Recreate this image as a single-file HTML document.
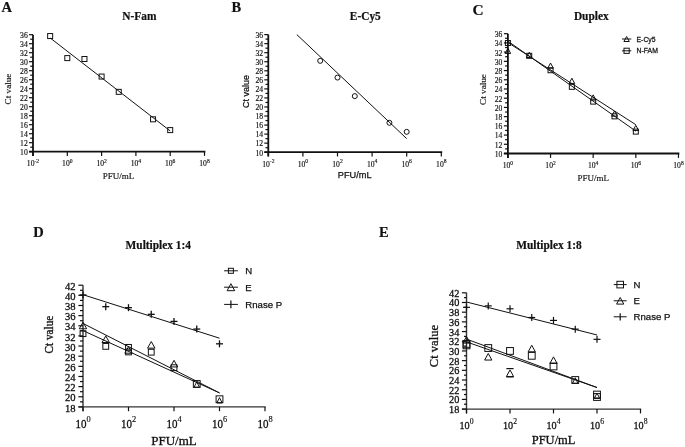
<!DOCTYPE html>
<html><head><meta charset="utf-8"><style>
html,body{margin:0;padding:0;background:#fff;}
svg{display:block;will-change:transform;}
#w{width:685px;height:447px;overflow:hidden;}
text{fill:#111;stroke:#111;stroke-width:0.2px;}
.s{font-family:"Liberation Serif",serif;stroke-width:0.3px;}
.t{font-family:"Liberation Serif",serif;stroke-width:0.15px;}
.b{font-family:"Liberation Serif",serif;font-weight:bold;}
.a{font-family:"Liberation Sans",sans-serif;stroke-width:0.25px;}
</style></head><body><div id="w">
<svg width="685" height="447" viewBox="0 0 685 447">
<rect width="685" height="447" fill="#fff"/>
<g>
<line x1="33.00" y1="34.70" x2="33.00" y2="155.90" stroke="#111" stroke-width="1.8"/>
<line x1="29.00" y1="151.70" x2="205.40" y2="151.70" stroke="#111" stroke-width="1.8"/>
<line x1="29.00" y1="151.70" x2="33.00" y2="151.70" stroke="#111" stroke-width="1.2"/>
<text class="t" x="27.80" y="155.00" font-size="7.7" text-anchor="end" >10</text>
<line x1="30.20" y1="147.20" x2="33.00" y2="147.20" stroke="#111" stroke-width="1.2"/>
<line x1="29.00" y1="142.70" x2="33.00" y2="142.70" stroke="#111" stroke-width="1.2"/>
<text class="t" x="27.80" y="146.00" font-size="7.7" text-anchor="end" >12</text>
<line x1="30.20" y1="138.20" x2="33.00" y2="138.20" stroke="#111" stroke-width="1.2"/>
<line x1="29.00" y1="133.70" x2="33.00" y2="133.70" stroke="#111" stroke-width="1.2"/>
<text class="t" x="27.80" y="137.00" font-size="7.7" text-anchor="end" >14</text>
<line x1="30.20" y1="129.20" x2="33.00" y2="129.20" stroke="#111" stroke-width="1.2"/>
<line x1="29.00" y1="124.70" x2="33.00" y2="124.70" stroke="#111" stroke-width="1.2"/>
<text class="t" x="27.80" y="128.00" font-size="7.7" text-anchor="end" >16</text>
<line x1="30.20" y1="120.20" x2="33.00" y2="120.20" stroke="#111" stroke-width="1.2"/>
<line x1="29.00" y1="115.70" x2="33.00" y2="115.70" stroke="#111" stroke-width="1.2"/>
<text class="t" x="27.80" y="119.00" font-size="7.7" text-anchor="end" >18</text>
<line x1="30.20" y1="111.20" x2="33.00" y2="111.20" stroke="#111" stroke-width="1.2"/>
<line x1="29.00" y1="106.70" x2="33.00" y2="106.70" stroke="#111" stroke-width="1.2"/>
<text class="t" x="27.80" y="110.00" font-size="7.7" text-anchor="end" >20</text>
<line x1="30.20" y1="102.20" x2="33.00" y2="102.20" stroke="#111" stroke-width="1.2"/>
<line x1="29.00" y1="97.70" x2="33.00" y2="97.70" stroke="#111" stroke-width="1.2"/>
<text class="t" x="27.80" y="101.00" font-size="7.7" text-anchor="end" >22</text>
<line x1="30.20" y1="93.20" x2="33.00" y2="93.20" stroke="#111" stroke-width="1.2"/>
<line x1="29.00" y1="88.70" x2="33.00" y2="88.70" stroke="#111" stroke-width="1.2"/>
<text class="t" x="27.80" y="92.00" font-size="7.7" text-anchor="end" >24</text>
<line x1="30.20" y1="84.20" x2="33.00" y2="84.20" stroke="#111" stroke-width="1.2"/>
<line x1="29.00" y1="79.70" x2="33.00" y2="79.70" stroke="#111" stroke-width="1.2"/>
<text class="t" x="27.80" y="83.00" font-size="7.7" text-anchor="end" >26</text>
<line x1="30.20" y1="75.20" x2="33.00" y2="75.20" stroke="#111" stroke-width="1.2"/>
<line x1="29.00" y1="70.70" x2="33.00" y2="70.70" stroke="#111" stroke-width="1.2"/>
<text class="t" x="27.80" y="74.00" font-size="7.7" text-anchor="end" >28</text>
<line x1="30.20" y1="66.20" x2="33.00" y2="66.20" stroke="#111" stroke-width="1.2"/>
<line x1="29.00" y1="61.70" x2="33.00" y2="61.70" stroke="#111" stroke-width="1.2"/>
<text class="t" x="27.80" y="65.00" font-size="7.7" text-anchor="end" >30</text>
<line x1="30.20" y1="57.20" x2="33.00" y2="57.20" stroke="#111" stroke-width="1.2"/>
<line x1="29.00" y1="52.70" x2="33.00" y2="52.70" stroke="#111" stroke-width="1.2"/>
<text class="t" x="27.80" y="56.00" font-size="7.7" text-anchor="end" >32</text>
<line x1="30.20" y1="48.20" x2="33.00" y2="48.20" stroke="#111" stroke-width="1.2"/>
<line x1="29.00" y1="43.70" x2="33.00" y2="43.70" stroke="#111" stroke-width="1.2"/>
<text class="t" x="27.80" y="47.00" font-size="7.7" text-anchor="end" >34</text>
<line x1="30.20" y1="39.20" x2="33.00" y2="39.20" stroke="#111" stroke-width="1.2"/>
<line x1="29.00" y1="34.70" x2="33.00" y2="34.70" stroke="#111" stroke-width="1.2"/>
<text class="t" x="27.80" y="38.00" font-size="7.7" text-anchor="end" >36</text>
<line x1="33.00" y1="151.70" x2="33.00" y2="155.90" stroke="#111" stroke-width="1.2"/>
<text class="t" x="0.00" y="0.00" font-size="7.2" transform="translate(26.85,166.00) scale(1.06,1)">10</text>
<text class="t" x="34.48" y="162.50" font-size="5.6" >-2</text>
<line x1="67.30" y1="151.70" x2="67.30" y2="155.90" stroke="#111" stroke-width="1.2"/>
<text class="t" x="0.00" y="0.00" font-size="7.2" transform="translate(62.08,166.00) scale(1.06,1)">10</text>
<text class="t" x="69.72" y="162.50" font-size="5.6" >0</text>
<line x1="101.60" y1="151.70" x2="101.60" y2="155.90" stroke="#111" stroke-width="1.2"/>
<text class="t" x="0.00" y="0.00" font-size="7.2" transform="translate(96.38,166.00) scale(1.06,1)">10</text>
<text class="t" x="104.02" y="162.50" font-size="5.6" >2</text>
<line x1="135.90" y1="151.70" x2="135.90" y2="155.90" stroke="#111" stroke-width="1.2"/>
<text class="t" x="0.00" y="0.00" font-size="7.2" transform="translate(130.68,166.00) scale(1.06,1)">10</text>
<text class="t" x="138.32" y="162.50" font-size="5.6" >4</text>
<line x1="170.20" y1="151.70" x2="170.20" y2="155.90" stroke="#111" stroke-width="1.2"/>
<text class="t" x="0.00" y="0.00" font-size="7.2" transform="translate(164.98,166.00) scale(1.06,1)">10</text>
<text class="t" x="172.62" y="162.50" font-size="5.6" >6</text>
<line x1="204.50" y1="151.70" x2="204.50" y2="155.90" stroke="#111" stroke-width="1.2"/>
<text class="t" x="0.00" y="0.00" font-size="7.2" transform="translate(199.28,166.00) scale(1.06,1)">10</text>
<text class="t" x="206.92" y="162.50" font-size="5.6" >8</text>
<line x1="50.15" y1="37.94" x2="170.20" y2="130.91" stroke="#111" stroke-width="1"/>
<rect x="47.65" y="33.55" width="5" height="5" fill="none" stroke="#111" stroke-width="1"/>
<rect x="64.80" y="55.60" width="5" height="5" fill="none" stroke="#111" stroke-width="1"/>
<rect x="81.95" y="56.50" width="5" height="5" fill="none" stroke="#111" stroke-width="1"/>
<rect x="99.10" y="74.05" width="5" height="5" fill="none" stroke="#111" stroke-width="1"/>
<rect x="116.25" y="89.35" width="5" height="5" fill="none" stroke="#111" stroke-width="1"/>
<rect x="150.55" y="116.80" width="5" height="5" fill="none" stroke="#111" stroke-width="1"/>
<rect x="167.70" y="127.60" width="5" height="5" fill="none" stroke="#111" stroke-width="1"/>
<text class="b" x="1.50" y="12.20" font-size="14.5" >A</text>
<text class="b" x="0.00" y="0.00" font-size="11.4" text-anchor="middle" transform="translate(139.30,19.70) scale(1,1.1)">N-Fam</text>
<text class="t" x="118.50" y="178.60" font-size="9" text-anchor="middle" >PFU/mL</text>
<text class="t" x="0.00" y="0.00" font-size="9.2" text-anchor="middle" transform="translate(10.8,89) rotate(-90)">Ct value</text>
<line x1="268.30" y1="34.60" x2="268.30" y2="156.40" stroke="#111" stroke-width="1.8"/>
<line x1="264.30" y1="152.20" x2="442.20" y2="152.20" stroke="#111" stroke-width="1.8"/>
<line x1="264.30" y1="152.20" x2="268.30" y2="152.20" stroke="#111" stroke-width="1.2"/>
<text class="t" x="263.10" y="155.50" font-size="7.7" text-anchor="end" >10</text>
<line x1="265.50" y1="147.68" x2="268.30" y2="147.68" stroke="#111" stroke-width="1.2"/>
<line x1="264.30" y1="143.15" x2="268.30" y2="143.15" stroke="#111" stroke-width="1.2"/>
<text class="t" x="263.10" y="146.45" font-size="7.7" text-anchor="end" >12</text>
<line x1="265.50" y1="138.63" x2="268.30" y2="138.63" stroke="#111" stroke-width="1.2"/>
<line x1="264.30" y1="134.11" x2="268.30" y2="134.11" stroke="#111" stroke-width="1.2"/>
<text class="t" x="263.10" y="137.41" font-size="7.7" text-anchor="end" >14</text>
<line x1="265.50" y1="129.58" x2="268.30" y2="129.58" stroke="#111" stroke-width="1.2"/>
<line x1="264.30" y1="125.06" x2="268.30" y2="125.06" stroke="#111" stroke-width="1.2"/>
<text class="t" x="263.10" y="128.36" font-size="7.7" text-anchor="end" >16</text>
<line x1="265.50" y1="120.54" x2="268.30" y2="120.54" stroke="#111" stroke-width="1.2"/>
<line x1="264.30" y1="116.02" x2="268.30" y2="116.02" stroke="#111" stroke-width="1.2"/>
<text class="t" x="263.10" y="119.32" font-size="7.7" text-anchor="end" >18</text>
<line x1="265.50" y1="111.49" x2="268.30" y2="111.49" stroke="#111" stroke-width="1.2"/>
<line x1="264.30" y1="106.97" x2="268.30" y2="106.97" stroke="#111" stroke-width="1.2"/>
<text class="t" x="263.10" y="110.27" font-size="7.7" text-anchor="end" >20</text>
<line x1="265.50" y1="102.45" x2="268.30" y2="102.45" stroke="#111" stroke-width="1.2"/>
<line x1="264.30" y1="97.92" x2="268.30" y2="97.92" stroke="#111" stroke-width="1.2"/>
<text class="t" x="263.10" y="101.22" font-size="7.7" text-anchor="end" >22</text>
<line x1="265.50" y1="93.40" x2="268.30" y2="93.40" stroke="#111" stroke-width="1.2"/>
<line x1="264.30" y1="88.88" x2="268.30" y2="88.88" stroke="#111" stroke-width="1.2"/>
<text class="t" x="263.10" y="92.18" font-size="7.7" text-anchor="end" >24</text>
<line x1="265.50" y1="84.35" x2="268.30" y2="84.35" stroke="#111" stroke-width="1.2"/>
<line x1="264.30" y1="79.83" x2="268.30" y2="79.83" stroke="#111" stroke-width="1.2"/>
<text class="t" x="263.10" y="83.13" font-size="7.7" text-anchor="end" >26</text>
<line x1="265.50" y1="75.31" x2="268.30" y2="75.31" stroke="#111" stroke-width="1.2"/>
<line x1="264.30" y1="70.79" x2="268.30" y2="70.79" stroke="#111" stroke-width="1.2"/>
<text class="t" x="263.10" y="74.09" font-size="7.7" text-anchor="end" >28</text>
<line x1="265.50" y1="66.26" x2="268.30" y2="66.26" stroke="#111" stroke-width="1.2"/>
<line x1="264.30" y1="61.74" x2="268.30" y2="61.74" stroke="#111" stroke-width="1.2"/>
<text class="t" x="263.10" y="65.04" font-size="7.7" text-anchor="end" >30</text>
<line x1="265.50" y1="57.22" x2="268.30" y2="57.22" stroke="#111" stroke-width="1.2"/>
<line x1="264.30" y1="52.69" x2="268.30" y2="52.69" stroke="#111" stroke-width="1.2"/>
<text class="t" x="263.10" y="55.99" font-size="7.7" text-anchor="end" >32</text>
<line x1="265.50" y1="48.17" x2="268.30" y2="48.17" stroke="#111" stroke-width="1.2"/>
<line x1="264.30" y1="43.65" x2="268.30" y2="43.65" stroke="#111" stroke-width="1.2"/>
<text class="t" x="263.10" y="46.95" font-size="7.7" text-anchor="end" >34</text>
<line x1="265.50" y1="39.12" x2="268.30" y2="39.12" stroke="#111" stroke-width="1.2"/>
<line x1="264.30" y1="34.60" x2="268.30" y2="34.60" stroke="#111" stroke-width="1.2"/>
<text class="t" x="263.10" y="37.90" font-size="7.7" text-anchor="end" >36</text>
<line x1="268.30" y1="152.20" x2="268.30" y2="156.40" stroke="#111" stroke-width="1.2"/>
<text class="t" x="0.00" y="0.00" font-size="7.2" transform="translate(262.15,166.50) scale(1.06,1)">10</text>
<text class="t" x="269.78" y="163.00" font-size="5.6" >-2</text>
<line x1="302.90" y1="152.20" x2="302.90" y2="156.40" stroke="#111" stroke-width="1.2"/>
<text class="t" x="0.00" y="0.00" font-size="7.2" transform="translate(297.68,166.50) scale(1.06,1)">10</text>
<text class="t" x="305.32" y="163.00" font-size="5.6" >0</text>
<line x1="337.50" y1="152.20" x2="337.50" y2="156.40" stroke="#111" stroke-width="1.2"/>
<text class="t" x="0.00" y="0.00" font-size="7.2" transform="translate(332.28,166.50) scale(1.06,1)">10</text>
<text class="t" x="339.92" y="163.00" font-size="5.6" >2</text>
<line x1="372.10" y1="152.20" x2="372.10" y2="156.40" stroke="#111" stroke-width="1.2"/>
<text class="t" x="0.00" y="0.00" font-size="7.2" transform="translate(366.88,166.50) scale(1.06,1)">10</text>
<text class="t" x="374.52" y="163.00" font-size="5.6" >4</text>
<line x1="406.70" y1="152.20" x2="406.70" y2="156.40" stroke="#111" stroke-width="1.2"/>
<text class="t" x="0.00" y="0.00" font-size="7.2" transform="translate(401.48,166.50) scale(1.06,1)">10</text>
<text class="t" x="409.12" y="163.00" font-size="5.6" >6</text>
<line x1="441.30" y1="152.20" x2="441.30" y2="156.40" stroke="#111" stroke-width="1.2"/>
<text class="t" x="0.00" y="0.00" font-size="7.2" transform="translate(436.08,166.50) scale(1.06,1)">10</text>
<text class="t" x="443.72" y="163.00" font-size="5.6" >8</text>
<line x1="296.85" y1="34.60" x2="406.70" y2="138.63" stroke="#111" stroke-width="1"/>
<circle cx="320.20" cy="60.84" r="2.5" fill="none" stroke="#111" stroke-width="1"/>
<circle cx="337.50" cy="77.57" r="2.5" fill="none" stroke="#111" stroke-width="1"/>
<circle cx="354.80" cy="96.11" r="2.5" fill="none" stroke="#111" stroke-width="1"/>
<circle cx="389.40" cy="122.80" r="2.5" fill="none" stroke="#111" stroke-width="1"/>
<circle cx="406.70" cy="131.85" r="2.5" fill="none" stroke="#111" stroke-width="1"/>
<text class="b" x="231.50" y="12.00" font-size="14.5" >B</text>
<text class="b" x="0.00" y="0.00" font-size="11.4" text-anchor="middle" transform="translate(365.30,19.70) scale(1,1.1)">E-Cy5</text>
<text class="a" x="354.70" y="178.10" font-size="9.2" text-anchor="middle" >PFU/mL</text>
<text class="a" x="0.00" y="0.00" font-size="9" text-anchor="middle" transform="translate(249.2,91.4) rotate(-90)">Ct value</text>
<line x1="507.90" y1="33.69" x2="507.90" y2="157.90" stroke="#111" stroke-width="1.8"/>
<line x1="503.90" y1="153.50" x2="679.36" y2="153.50" stroke="#111" stroke-width="1.8"/>
<line x1="503.90" y1="153.50" x2="507.90" y2="153.50" stroke="#111" stroke-width="1.2"/>
<text class="t" x="502.40" y="156.90" font-size="7.6" text-anchor="end" >10</text>
<line x1="505.10" y1="148.89" x2="507.90" y2="148.89" stroke="#111" stroke-width="1.2"/>
<line x1="503.90" y1="144.28" x2="507.90" y2="144.28" stroke="#111" stroke-width="1.2"/>
<text class="t" x="502.40" y="147.68" font-size="7.6" text-anchor="end" >12</text>
<line x1="505.10" y1="139.68" x2="507.90" y2="139.68" stroke="#111" stroke-width="1.2"/>
<line x1="503.90" y1="135.07" x2="507.90" y2="135.07" stroke="#111" stroke-width="1.2"/>
<text class="t" x="502.40" y="138.47" font-size="7.6" text-anchor="end" >14</text>
<line x1="505.10" y1="130.46" x2="507.90" y2="130.46" stroke="#111" stroke-width="1.2"/>
<line x1="503.90" y1="125.85" x2="507.90" y2="125.85" stroke="#111" stroke-width="1.2"/>
<text class="t" x="502.40" y="129.25" font-size="7.6" text-anchor="end" >16</text>
<line x1="505.10" y1="121.24" x2="507.90" y2="121.24" stroke="#111" stroke-width="1.2"/>
<line x1="503.90" y1="116.64" x2="507.90" y2="116.64" stroke="#111" stroke-width="1.2"/>
<text class="t" x="502.40" y="120.04" font-size="7.6" text-anchor="end" >18</text>
<line x1="505.10" y1="112.03" x2="507.90" y2="112.03" stroke="#111" stroke-width="1.2"/>
<line x1="503.90" y1="107.42" x2="507.90" y2="107.42" stroke="#111" stroke-width="1.2"/>
<text class="t" x="502.40" y="110.82" font-size="7.6" text-anchor="end" >20</text>
<line x1="505.10" y1="102.81" x2="507.90" y2="102.81" stroke="#111" stroke-width="1.2"/>
<line x1="503.90" y1="98.20" x2="507.90" y2="98.20" stroke="#111" stroke-width="1.2"/>
<text class="t" x="502.40" y="101.60" font-size="7.6" text-anchor="end" >22</text>
<line x1="505.10" y1="93.60" x2="507.90" y2="93.60" stroke="#111" stroke-width="1.2"/>
<line x1="503.90" y1="88.99" x2="507.90" y2="88.99" stroke="#111" stroke-width="1.2"/>
<text class="t" x="502.40" y="92.39" font-size="7.6" text-anchor="end" >24</text>
<line x1="505.10" y1="84.38" x2="507.90" y2="84.38" stroke="#111" stroke-width="1.2"/>
<line x1="503.90" y1="79.77" x2="507.90" y2="79.77" stroke="#111" stroke-width="1.2"/>
<text class="t" x="502.40" y="83.17" font-size="7.6" text-anchor="end" >26</text>
<line x1="505.10" y1="75.16" x2="507.90" y2="75.16" stroke="#111" stroke-width="1.2"/>
<line x1="503.90" y1="70.56" x2="507.90" y2="70.56" stroke="#111" stroke-width="1.2"/>
<text class="t" x="502.40" y="73.96" font-size="7.6" text-anchor="end" >28</text>
<line x1="505.10" y1="65.95" x2="507.90" y2="65.95" stroke="#111" stroke-width="1.2"/>
<line x1="503.90" y1="61.34" x2="507.90" y2="61.34" stroke="#111" stroke-width="1.2"/>
<text class="t" x="502.40" y="64.74" font-size="7.6" text-anchor="end" >30</text>
<line x1="505.10" y1="56.73" x2="507.90" y2="56.73" stroke="#111" stroke-width="1.2"/>
<line x1="503.90" y1="52.12" x2="507.90" y2="52.12" stroke="#111" stroke-width="1.2"/>
<text class="t" x="502.40" y="55.52" font-size="7.6" text-anchor="end" >32</text>
<line x1="505.10" y1="47.52" x2="507.90" y2="47.52" stroke="#111" stroke-width="1.2"/>
<line x1="503.90" y1="42.91" x2="507.90" y2="42.91" stroke="#111" stroke-width="1.2"/>
<text class="t" x="502.40" y="46.31" font-size="7.6" text-anchor="end" >34</text>
<line x1="505.10" y1="38.30" x2="507.90" y2="38.30" stroke="#111" stroke-width="1.2"/>
<line x1="503.90" y1="33.69" x2="507.90" y2="33.69" stroke="#111" stroke-width="1.2"/>
<text class="t" x="502.40" y="37.09" font-size="7.6" text-anchor="end" >36</text>
<line x1="507.90" y1="153.50" x2="507.90" y2="157.90" stroke="#111" stroke-width="1.2"/>
<text class="t" x="502.72" y="168.40" font-size="7.6" >10</text>
<text class="t" x="510.32" y="164.70" font-size="5.5" >0</text>
<line x1="550.54" y1="153.50" x2="550.54" y2="157.90" stroke="#111" stroke-width="1.2"/>
<text class="t" x="545.37" y="168.40" font-size="7.6" >10</text>
<text class="t" x="552.97" y="164.70" font-size="5.5" >2</text>
<line x1="593.18" y1="153.50" x2="593.18" y2="157.90" stroke="#111" stroke-width="1.2"/>
<text class="t" x="588.00" y="168.40" font-size="7.6" >10</text>
<text class="t" x="595.61" y="164.70" font-size="5.5" >4</text>
<line x1="635.82" y1="153.50" x2="635.82" y2="157.90" stroke="#111" stroke-width="1.2"/>
<text class="t" x="630.64" y="168.40" font-size="7.6" >10</text>
<text class="t" x="638.25" y="164.70" font-size="5.5" >6</text>
<line x1="678.46" y1="153.50" x2="678.46" y2="157.90" stroke="#111" stroke-width="1.2"/>
<text class="t" x="673.29" y="168.40" font-size="7.6" >10</text>
<text class="t" x="680.89" y="164.70" font-size="5.5" >8</text>
<line x1="507.90" y1="42.54" x2="635.82" y2="124.70" stroke="#111" stroke-width="1"/>
<path d="M507.90,48.23 L510.70,53.43 L505.10,53.43 Z" fill="none" stroke="#111" stroke-width="1"/>
<path d="M529.22,52.29 L532.02,57.49 L526.42,57.49 Z" fill="none" stroke="#111" stroke-width="1"/>
<path d="M550.54,63.03 L553.34,68.23 L547.74,68.23 Z" fill="none" stroke="#111" stroke-width="1"/>
<path d="M571.86,78.23 L574.66,83.43 L569.06,83.43 Z" fill="none" stroke="#111" stroke-width="1"/>
<path d="M593.18,94.87 L595.98,100.07 L590.38,100.07 Z" fill="none" stroke="#111" stroke-width="1"/>
<path d="M614.50,110.99 L617.30,116.19 L611.70,116.19 Z" fill="none" stroke="#111" stroke-width="1"/>
<path d="M635.82,125.33 L638.62,130.53 L633.02,130.53 Z" fill="none" stroke="#111" stroke-width="1"/>
<line x1="507.90" y1="41.16" x2="635.82" y2="131.15" stroke="#111" stroke-width="1"/>
<rect x="505.40" y="40.50" width="5" height="5" fill="none" stroke="#111" stroke-width="1"/>
<rect x="526.72" y="53.31" width="5" height="5" fill="none" stroke="#111" stroke-width="1"/>
<rect x="548.04" y="67.73" width="5" height="5" fill="none" stroke="#111" stroke-width="1"/>
<rect x="569.36" y="84.32" width="5" height="5" fill="none" stroke="#111" stroke-width="1"/>
<rect x="590.68" y="99.11" width="5" height="5" fill="none" stroke="#111" stroke-width="1"/>
<rect x="612.00" y="113.86" width="5" height="5" fill="none" stroke="#111" stroke-width="1"/>
<rect x="633.32" y="129.11" width="5" height="5" fill="none" stroke="#111" stroke-width="1"/>
<text class="b" x="0.00" y="0.00" font-size="14.5" transform="translate(472.40,15.30) scale(1.06,1)">C</text>
<text class="b" x="0.00" y="0.00" font-size="11.4" text-anchor="middle" transform="translate(591.30,19.70) scale(1,1.1)">Duplex</text>
<text class="t" x="593.20" y="181.00" font-size="9" text-anchor="middle" >PFU/mL</text>
<text class="t" x="0.00" y="0.00" font-size="9.2" text-anchor="middle" transform="translate(485.8,89.5) rotate(-90)">Ct value</text>
<line x1="622.00" y1="39.00" x2="631.30" y2="39.00" stroke="#111" stroke-width="1"/>
<path d="M626.60,36.50 L629.30,41.50 L623.90,41.50 Z" fill="none" stroke="#111" stroke-width="1"/>
<line x1="622.00" y1="50.80" x2="631.30" y2="50.80" stroke="#111" stroke-width="1"/>
<rect x="624.00" y="48.20" width="5.2" height="5.2" fill="none" stroke="#111" stroke-width="1"/>
<text class="a" x="0.00" y="0.00" font-size="7.5" transform="translate(636.50,41.50) scale(0.92,1)">E-Cy5</text>
<text class="a" x="0.00" y="0.00" font-size="7.5" transform="translate(636.50,53.00) scale(0.92,1)">N-FAM</text>
<line x1="83.00" y1="285.22" x2="83.00" y2="411.20" stroke="#333" stroke-width="1.4"/>
<line x1="78.40" y1="406.90" x2="265.70" y2="406.90" stroke="#333" stroke-width="1.4"/>
<line x1="78.40" y1="406.90" x2="83.00" y2="406.90" stroke="#111" stroke-width="1.2"/>
<text class="s" x="75.60" y="411.60" font-size="10.6" text-anchor="end" >18</text>
<line x1="80.00" y1="401.83" x2="83.00" y2="401.83" stroke="#111" stroke-width="1.2"/>
<line x1="78.40" y1="396.76" x2="83.00" y2="396.76" stroke="#111" stroke-width="1.2"/>
<text class="s" x="75.60" y="401.46" font-size="10.6" text-anchor="end" >20</text>
<line x1="80.00" y1="391.69" x2="83.00" y2="391.69" stroke="#111" stroke-width="1.2"/>
<line x1="78.40" y1="386.62" x2="83.00" y2="386.62" stroke="#111" stroke-width="1.2"/>
<text class="s" x="75.60" y="391.32" font-size="10.6" text-anchor="end" >22</text>
<line x1="80.00" y1="381.55" x2="83.00" y2="381.55" stroke="#111" stroke-width="1.2"/>
<line x1="78.40" y1="376.48" x2="83.00" y2="376.48" stroke="#111" stroke-width="1.2"/>
<text class="s" x="75.60" y="381.18" font-size="10.6" text-anchor="end" >24</text>
<line x1="80.00" y1="371.41" x2="83.00" y2="371.41" stroke="#111" stroke-width="1.2"/>
<line x1="78.40" y1="366.34" x2="83.00" y2="366.34" stroke="#111" stroke-width="1.2"/>
<text class="s" x="75.60" y="371.04" font-size="10.6" text-anchor="end" >26</text>
<line x1="80.00" y1="361.27" x2="83.00" y2="361.27" stroke="#111" stroke-width="1.2"/>
<line x1="78.40" y1="356.20" x2="83.00" y2="356.20" stroke="#111" stroke-width="1.2"/>
<text class="s" x="75.60" y="360.90" font-size="10.6" text-anchor="end" >28</text>
<line x1="80.00" y1="351.13" x2="83.00" y2="351.13" stroke="#111" stroke-width="1.2"/>
<line x1="78.40" y1="346.06" x2="83.00" y2="346.06" stroke="#111" stroke-width="1.2"/>
<text class="s" x="75.60" y="350.76" font-size="10.6" text-anchor="end" >30</text>
<line x1="80.00" y1="340.99" x2="83.00" y2="340.99" stroke="#111" stroke-width="1.2"/>
<line x1="78.40" y1="335.92" x2="83.00" y2="335.92" stroke="#111" stroke-width="1.2"/>
<text class="s" x="75.60" y="340.62" font-size="10.6" text-anchor="end" >32</text>
<line x1="80.00" y1="330.85" x2="83.00" y2="330.85" stroke="#111" stroke-width="1.2"/>
<line x1="78.40" y1="325.78" x2="83.00" y2="325.78" stroke="#111" stroke-width="1.2"/>
<text class="s" x="75.60" y="330.48" font-size="10.6" text-anchor="end" >34</text>
<line x1="80.00" y1="320.71" x2="83.00" y2="320.71" stroke="#111" stroke-width="1.2"/>
<line x1="78.40" y1="315.64" x2="83.00" y2="315.64" stroke="#111" stroke-width="1.2"/>
<text class="s" x="75.60" y="320.34" font-size="10.6" text-anchor="end" >36</text>
<line x1="80.00" y1="310.57" x2="83.00" y2="310.57" stroke="#111" stroke-width="1.2"/>
<line x1="78.40" y1="305.50" x2="83.00" y2="305.50" stroke="#111" stroke-width="1.2"/>
<text class="s" x="75.60" y="310.20" font-size="10.6" text-anchor="end" >38</text>
<line x1="80.00" y1="300.43" x2="83.00" y2="300.43" stroke="#111" stroke-width="1.2"/>
<line x1="78.40" y1="295.36" x2="83.00" y2="295.36" stroke="#111" stroke-width="1.2"/>
<text class="s" x="75.60" y="300.06" font-size="10.6" text-anchor="end" >40</text>
<line x1="80.00" y1="290.29" x2="83.00" y2="290.29" stroke="#111" stroke-width="1.2"/>
<line x1="78.40" y1="285.22" x2="83.00" y2="285.22" stroke="#111" stroke-width="1.2"/>
<text class="s" x="75.60" y="289.92" font-size="10.6" text-anchor="end" >42</text>
<line x1="83.00" y1="406.90" x2="83.00" y2="411.20" stroke="#111" stroke-width="1.2"/>
<text class="s" x="0.00" y="0.00" font-size="12" transform="translate(75.38,427.90) scale(0.92,1)">10</text>
<text class="t" x="86.42" y="422.00" font-size="8.4" >0</text>
<line x1="128.50" y1="406.90" x2="128.50" y2="411.20" stroke="#111" stroke-width="1.2"/>
<text class="s" x="0.00" y="0.00" font-size="12" transform="translate(120.88,427.90) scale(0.92,1)">10</text>
<text class="t" x="131.92" y="422.00" font-size="8.4" >2</text>
<line x1="174.00" y1="406.90" x2="174.00" y2="411.20" stroke="#111" stroke-width="1.2"/>
<text class="s" x="0.00" y="0.00" font-size="12" transform="translate(166.38,427.90) scale(0.92,1)">10</text>
<text class="t" x="177.42" y="422.00" font-size="8.4" >4</text>
<line x1="219.50" y1="406.90" x2="219.50" y2="411.20" stroke="#111" stroke-width="1.2"/>
<text class="s" x="0.00" y="0.00" font-size="12" transform="translate(211.88,427.90) scale(0.92,1)">10</text>
<text class="t" x="222.92" y="422.00" font-size="8.4" >6</text>
<line x1="265.00" y1="406.90" x2="265.00" y2="411.20" stroke="#111" stroke-width="1.2"/>
<text class="s" x="0.00" y="0.00" font-size="12" transform="translate(257.38,427.90) scale(0.92,1)">10</text>
<text class="t" x="268.42" y="422.00" font-size="8.4" >8</text>
<line x1="83.00" y1="294.70" x2="219.50" y2="338.20" stroke="#111" stroke-width="1"/>
<line x1="79.50" y1="294.95" x2="86.50" y2="294.95" stroke="#111" stroke-width="1.3"/>
<line x1="83.00" y1="291.45" x2="83.00" y2="298.45" stroke="#111" stroke-width="1.3"/>
<line x1="102.25" y1="306.67" x2="109.25" y2="306.67" stroke="#111" stroke-width="1.3"/>
<line x1="105.75" y1="303.17" x2="105.75" y2="310.17" stroke="#111" stroke-width="1.3"/>
<line x1="125.00" y1="307.68" x2="132.00" y2="307.68" stroke="#111" stroke-width="1.3"/>
<line x1="128.50" y1="304.18" x2="128.50" y2="311.18" stroke="#111" stroke-width="1.3"/>
<line x1="147.75" y1="314.32" x2="154.75" y2="314.32" stroke="#111" stroke-width="1.3"/>
<line x1="151.25" y1="310.82" x2="151.25" y2="317.82" stroke="#111" stroke-width="1.3"/>
<line x1="170.50" y1="321.42" x2="177.50" y2="321.42" stroke="#111" stroke-width="1.3"/>
<line x1="174.00" y1="317.92" x2="174.00" y2="324.92" stroke="#111" stroke-width="1.3"/>
<line x1="193.25" y1="329.08" x2="200.25" y2="329.08" stroke="#111" stroke-width="1.3"/>
<line x1="196.75" y1="325.58" x2="196.75" y2="332.58" stroke="#111" stroke-width="1.3"/>
<line x1="216.00" y1="343.83" x2="223.00" y2="343.83" stroke="#111" stroke-width="1.3"/>
<line x1="219.50" y1="340.33" x2="219.50" y2="347.33" stroke="#111" stroke-width="1.3"/>
<line x1="83.00" y1="323.45" x2="219.50" y2="392.91" stroke="#111" stroke-width="1"/>
<path d="M83.00,322.18 L86.70,328.78 L79.30,328.78 Z" fill="none" stroke="#111" stroke-width="1"/>
<path d="M105.75,335.92 L109.45,342.52 L102.05,342.52 Z" fill="none" stroke="#111" stroke-width="1"/>
<path d="M128.50,346.61 L132.20,353.21 L124.80,353.21 Z" fill="none" stroke="#111" stroke-width="1"/>
<path d="M151.25,341.54 L154.95,348.14 L147.55,348.14 Z" fill="none" stroke="#111" stroke-width="1"/>
<path d="M174.00,360.35 L177.70,366.95 L170.30,366.95 Z" fill="none" stroke="#111" stroke-width="1"/>
<path d="M196.75,381.79 L199.45,387.19 L194.05,387.19 Z" fill="none" stroke="#111" stroke-width="1"/>
<path d="M219.50,397.61 L222.20,403.01 L216.80,403.01 Z" fill="none" stroke="#111" stroke-width="1"/>
<line x1="83.00" y1="330.60" x2="219.50" y2="392.91" stroke="#111" stroke-width="1"/>
<rect x="80.10" y="330.74" width="5.8" height="5.8" fill="none" stroke="#111" stroke-width="1"/>
<rect x="102.85" y="343.46" width="5.8" height="5.8" fill="none" stroke="#111" stroke-width="1"/>
<rect x="125.60" y="344.48" width="5.8" height="5.8" fill="none" stroke="#111" stroke-width="1"/>
<rect x="125.60" y="349.04" width="5.8" height="5.8" fill="none" stroke="#111" stroke-width="1"/>
<rect x="148.35" y="349.29" width="5.8" height="5.8" fill="none" stroke="#111" stroke-width="1"/>
<rect x="171.10" y="364.81" width="5.8" height="5.8" fill="none" stroke="#111" stroke-width="1"/>
<rect x="193.35" y="380.58" width="6.8" height="6.8" fill="none" stroke="#111" stroke-width="1"/>
<rect x="216.10" y="395.84" width="6.8" height="6.8" fill="none" stroke="#111" stroke-width="1"/>
<text class="b" x="33.30" y="237.10" font-size="14.5" >D</text>
<text class="b" x="0.00" y="0.00" font-size="11.4" text-anchor="middle" transform="translate(158.30,248.90) scale(1,1.1)">Multiplex 1:4</text>
<text class="s" x="174.00" y="444.60" font-size="13" text-anchor="middle" >PFU/mL</text>
<text class="s" x="0.00" y="0.00" font-size="11.2" text-anchor="middle" transform="translate(52.9,334.6) rotate(-90) scale(1,1.15)">Ct value</text>
<line x1="224.10" y1="270.80" x2="237.90" y2="270.80" stroke="#111" stroke-width="1"/>
<rect x="228.40" y="268.30" width="5" height="5" fill="none" stroke="#111" stroke-width="1"/>
<text class="a" x="245.30" y="274.20" font-size="9.6" >N</text>
<line x1="224.10" y1="287.20" x2="237.90" y2="287.20" stroke="#111" stroke-width="1"/>
<path d="M230.90,283.70 L234.70,290.70 L227.10,290.70 Z" fill="none" stroke="#111" stroke-width="1"/>
<text class="a" x="245.30" y="290.60" font-size="9.6" >E</text>
<line x1="224.10" y1="304.40" x2="237.90" y2="304.40" stroke="#111" stroke-width="1"/>
<line x1="230.90" y1="300.50" x2="230.90" y2="308.30" stroke="#111" stroke-width="1.2"/>
<text class="a" x="245.30" y="307.80" font-size="9.6" >Rnase P</text>
<line x1="466.50" y1="292.80" x2="466.50" y2="413.40" stroke="#333" stroke-width="1.4"/>
<line x1="461.90" y1="409.10" x2="641.20" y2="409.10" stroke="#333" stroke-width="1.4"/>
<line x1="461.90" y1="409.10" x2="466.50" y2="409.10" stroke="#111" stroke-width="1.2"/>
<text class="s" x="459.30" y="413.10" font-size="10.3" text-anchor="end" >18</text>
<line x1="464.00" y1="404.25" x2="466.50" y2="404.25" stroke="#111" stroke-width="1.2"/>
<line x1="461.90" y1="399.41" x2="466.50" y2="399.41" stroke="#111" stroke-width="1.2"/>
<text class="s" x="459.30" y="403.41" font-size="10.3" text-anchor="end" >20</text>
<line x1="464.00" y1="394.56" x2="466.50" y2="394.56" stroke="#111" stroke-width="1.2"/>
<line x1="461.90" y1="389.72" x2="466.50" y2="389.72" stroke="#111" stroke-width="1.2"/>
<text class="s" x="459.30" y="393.72" font-size="10.3" text-anchor="end" >22</text>
<line x1="464.00" y1="384.87" x2="466.50" y2="384.87" stroke="#111" stroke-width="1.2"/>
<line x1="461.90" y1="380.02" x2="466.50" y2="380.02" stroke="#111" stroke-width="1.2"/>
<text class="s" x="459.30" y="384.02" font-size="10.3" text-anchor="end" >24</text>
<line x1="464.00" y1="375.18" x2="466.50" y2="375.18" stroke="#111" stroke-width="1.2"/>
<line x1="461.90" y1="370.33" x2="466.50" y2="370.33" stroke="#111" stroke-width="1.2"/>
<text class="s" x="459.30" y="374.33" font-size="10.3" text-anchor="end" >26</text>
<line x1="464.00" y1="365.49" x2="466.50" y2="365.49" stroke="#111" stroke-width="1.2"/>
<line x1="461.90" y1="360.64" x2="466.50" y2="360.64" stroke="#111" stroke-width="1.2"/>
<text class="s" x="459.30" y="364.64" font-size="10.3" text-anchor="end" >28</text>
<line x1="464.00" y1="355.79" x2="466.50" y2="355.79" stroke="#111" stroke-width="1.2"/>
<line x1="461.90" y1="350.95" x2="466.50" y2="350.95" stroke="#111" stroke-width="1.2"/>
<text class="s" x="459.30" y="354.95" font-size="10.3" text-anchor="end" >30</text>
<line x1="464.00" y1="346.10" x2="466.50" y2="346.10" stroke="#111" stroke-width="1.2"/>
<line x1="461.90" y1="341.26" x2="466.50" y2="341.26" stroke="#111" stroke-width="1.2"/>
<text class="s" x="459.30" y="345.26" font-size="10.3" text-anchor="end" >32</text>
<line x1="464.00" y1="336.41" x2="466.50" y2="336.41" stroke="#111" stroke-width="1.2"/>
<line x1="461.90" y1="331.56" x2="466.50" y2="331.56" stroke="#111" stroke-width="1.2"/>
<text class="s" x="459.30" y="335.56" font-size="10.3" text-anchor="end" >34</text>
<line x1="464.00" y1="326.72" x2="466.50" y2="326.72" stroke="#111" stroke-width="1.2"/>
<line x1="461.90" y1="321.87" x2="466.50" y2="321.87" stroke="#111" stroke-width="1.2"/>
<text class="s" x="459.30" y="325.87" font-size="10.3" text-anchor="end" >36</text>
<line x1="464.00" y1="317.03" x2="466.50" y2="317.03" stroke="#111" stroke-width="1.2"/>
<line x1="461.90" y1="312.18" x2="466.50" y2="312.18" stroke="#111" stroke-width="1.2"/>
<text class="s" x="459.30" y="316.18" font-size="10.3" text-anchor="end" >38</text>
<line x1="464.00" y1="307.33" x2="466.50" y2="307.33" stroke="#111" stroke-width="1.2"/>
<line x1="461.90" y1="302.49" x2="466.50" y2="302.49" stroke="#111" stroke-width="1.2"/>
<text class="s" x="459.30" y="306.49" font-size="10.3" text-anchor="end" >40</text>
<line x1="464.00" y1="297.64" x2="466.50" y2="297.64" stroke="#111" stroke-width="1.2"/>
<line x1="461.90" y1="292.80" x2="466.50" y2="292.80" stroke="#111" stroke-width="1.2"/>
<text class="s" x="459.30" y="296.80" font-size="10.3" text-anchor="end" >42</text>
<line x1="466.50" y1="409.10" x2="466.50" y2="413.40" stroke="#111" stroke-width="1.2"/>
<text class="s" x="0.00" y="0.00" font-size="11.2" transform="translate(459.48,428.70) scale(0.91,1)">10</text>
<text class="t" x="469.67" y="423.70" font-size="7.7" >0</text>
<line x1="510.00" y1="409.10" x2="510.00" y2="413.40" stroke="#111" stroke-width="1.2"/>
<text class="s" x="0.00" y="0.00" font-size="11.2" transform="translate(502.98,428.70) scale(0.91,1)">10</text>
<text class="t" x="513.17" y="423.70" font-size="7.7" >2</text>
<line x1="553.50" y1="409.10" x2="553.50" y2="413.40" stroke="#111" stroke-width="1.2"/>
<text class="s" x="0.00" y="0.00" font-size="11.2" transform="translate(546.48,428.70) scale(0.91,1)">10</text>
<text class="t" x="556.67" y="423.70" font-size="7.7" >4</text>
<line x1="597.00" y1="409.10" x2="597.00" y2="413.40" stroke="#111" stroke-width="1.2"/>
<text class="s" x="0.00" y="0.00" font-size="11.2" transform="translate(589.98,428.70) scale(0.91,1)">10</text>
<text class="t" x="600.17" y="423.70" font-size="7.7" >6</text>
<line x1="640.50" y1="409.10" x2="640.50" y2="413.40" stroke="#111" stroke-width="1.2"/>
<text class="s" x="0.00" y="0.00" font-size="11.2" transform="translate(633.48,428.70) scale(0.91,1)">10</text>
<text class="t" x="643.67" y="423.70" font-size="7.7" >8</text>
<line x1="466.50" y1="302.00" x2="597.00" y2="334.96" stroke="#111" stroke-width="1"/>
<line x1="463.00" y1="307.33" x2="470.00" y2="307.33" stroke="#111" stroke-width="1.2"/>
<line x1="466.50" y1="303.83" x2="466.50" y2="310.83" stroke="#111" stroke-width="1.2"/>
<line x1="484.75" y1="305.88" x2="491.75" y2="305.88" stroke="#111" stroke-width="1.2"/>
<line x1="488.25" y1="302.38" x2="488.25" y2="309.38" stroke="#111" stroke-width="1.2"/>
<line x1="506.50" y1="308.79" x2="513.50" y2="308.79" stroke="#111" stroke-width="1.2"/>
<line x1="510.00" y1="305.29" x2="510.00" y2="312.29" stroke="#111" stroke-width="1.2"/>
<line x1="528.25" y1="317.51" x2="535.25" y2="317.51" stroke="#111" stroke-width="1.2"/>
<line x1="531.75" y1="314.01" x2="531.75" y2="321.01" stroke="#111" stroke-width="1.2"/>
<line x1="550.00" y1="320.42" x2="557.00" y2="320.42" stroke="#111" stroke-width="1.2"/>
<line x1="553.50" y1="316.92" x2="553.50" y2="323.92" stroke="#111" stroke-width="1.2"/>
<line x1="571.75" y1="329.14" x2="578.75" y2="329.14" stroke="#111" stroke-width="1.2"/>
<line x1="575.25" y1="325.64" x2="575.25" y2="332.64" stroke="#111" stroke-width="1.2"/>
<line x1="593.50" y1="339.32" x2="600.50" y2="339.32" stroke="#111" stroke-width="1.2"/>
<line x1="597.00" y1="335.82" x2="597.00" y2="342.82" stroke="#111" stroke-width="1.2"/>
<line x1="466.50" y1="341.89" x2="597.00" y2="387.54" stroke="#111" stroke-width="1"/>
<path d="M466.50,336.50 L470.10,343.10 L462.90,343.10 Z" fill="none" stroke="#111" stroke-width="1"/>
<path d="M488.25,353.46 L491.85,360.06 L484.65,360.06 Z" fill="none" stroke="#111" stroke-width="1"/>
<path d="M510.00,369.94 L513.60,376.54 L506.40,376.54 Z" fill="none" stroke="#111" stroke-width="1"/>
<path d="M531.75,345.23 L535.35,351.83 L528.15,351.83 Z" fill="none" stroke="#111" stroke-width="1"/>
<path d="M553.50,356.86 L557.10,363.46 L549.90,363.46 Z" fill="none" stroke="#111" stroke-width="1"/>
<path d="M575.25,377.81 L577.95,383.21 L572.55,383.21 Z" fill="none" stroke="#111" stroke-width="1"/>
<path d="M597.00,393.07 L599.70,398.47 L594.30,398.47 Z" fill="none" stroke="#111" stroke-width="1"/>
<line x1="466.50" y1="339.08" x2="597.00" y2="387.54" stroke="#111" stroke-width="1"/>
<rect x="463.10" y="340.52" width="6.8" height="6.8" fill="none" stroke="#111" stroke-width="1"/>
<rect x="463.10" y="341.98" width="6.8" height="6.8" fill="none" stroke="#111" stroke-width="1"/>
<rect x="484.85" y="344.64" width="6.8" height="6.8" fill="none" stroke="#111" stroke-width="1"/>
<rect x="506.60" y="347.55" width="6.8" height="6.8" fill="none" stroke="#111" stroke-width="1"/>
<rect x="528.35" y="352.39" width="6.8" height="6.8" fill="none" stroke="#111" stroke-width="1"/>
<rect x="550.10" y="363.06" width="6.8" height="6.8" fill="none" stroke="#111" stroke-width="1"/>
<rect x="571.85" y="376.62" width="6.8" height="6.8" fill="none" stroke="#111" stroke-width="1"/>
<rect x="593.60" y="391.16" width="6.8" height="6.8" fill="none" stroke="#111" stroke-width="1"/>
<rect x="593.60" y="393.59" width="6.8" height="6.8" fill="none" stroke="#111" stroke-width="1"/>
<line x1="506.40" y1="368.60" x2="513.60" y2="368.60" stroke="#111" stroke-width="1.2"/>
<line x1="506.30" y1="377.00" x2="513.70" y2="377.00" stroke="#111" stroke-width="1.0"/>
<text class="b" x="379.00" y="236.60" font-size="14.5" >E</text>
<text class="b" x="0.00" y="0.00" font-size="11.4" text-anchor="middle" transform="translate(549.00,249.00) scale(1,1.1)">Multiplex 1:8</text>
<text class="s" x="553.60" y="444.30" font-size="12.5" text-anchor="middle" >PFU/mL</text>
<text class="s" x="0.00" y="0.00" font-size="12.6" text-anchor="middle" transform="translate(438,346.1) rotate(-90)">Ct value</text>
<line x1="613.70" y1="284.60" x2="626.70" y2="284.60" stroke="#111" stroke-width="1"/>
<rect x="616.90" y="281.30" width="6.6" height="6.6" fill="none" stroke="#111" stroke-width="1"/>
<text class="a" x="633.60" y="288.00" font-size="9.6" >N</text>
<line x1="613.70" y1="300.80" x2="626.70" y2="300.80" stroke="#111" stroke-width="1"/>
<path d="M620.20,297.50 L623.80,304.10 L616.60,304.10 Z" fill="none" stroke="#111" stroke-width="1"/>
<text class="a" x="633.60" y="304.20" font-size="9.6" >E</text>
<line x1="613.70" y1="316.80" x2="626.70" y2="316.80" stroke="#111" stroke-width="1"/>
<line x1="620.20" y1="313.20" x2="620.20" y2="320.40" stroke="#111" stroke-width="1.2"/>
<text class="a" x="633.60" y="320.20" font-size="9.6" >Rnase P</text>
</g>
</svg></div>
</body></html>
